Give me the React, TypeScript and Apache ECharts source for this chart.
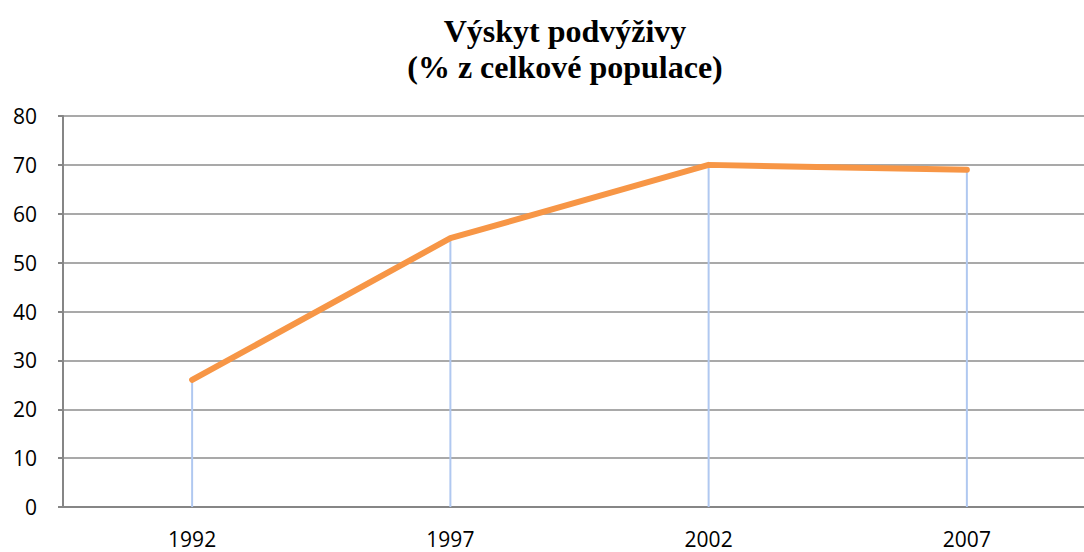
import React, { useEffect, useRef } from "react";
import * as echarts from "echarts";

const years = ["1992", "1997", "2002", "2007"];
const values = [26, 55, 70, 69];
const yTicks = [0, 10, 20, 30, 40, 50, 60, 70, 80];

export default function App() {
  const ref = useRef<HTMLDivElement>(null);
  useEffect(() => {
    const chart = echarts.init(ref.current!, null, { renderer: "svg" });
    chart.setOption({
      animation: false,
      title: {
        text: "Výskyt podvýživy\n(% z celkové populace)",
        left: 560,
        textAlign: "center",
        top: 8,
        textStyle: {
          fontFamily: "Liberation Serif",
          fontWeight: "bold",
          fontSize: 32,
          lineHeight: 36,
          color: "#000",
        },
      },
      grid: { left: 63, right: 4, top: 116, bottom: 45 },
      xAxis: {
        type: "category",
        data: years,
        boundaryGap: true,
        axisLine: { lineStyle: { color: "#868686", width: 2 } },
        axisTick: { show: false },
        axisLabel: {
          fontFamily: "Open Sans",
          fontSize: 21,
          color: "#000",
          margin: 21,
        },
      },
      yAxis: {
        type: "value",
        min: yTicks[0],
        max: yTicks[yTicks.length - 1],
        interval: 10,
        axisLine: { show: true, lineStyle: { color: "#868686", width: 2 } },
        axisTick: { show: true, length: 5, lineStyle: { color: "#868686", width: 2 } },
        axisLabel: {
          fontFamily: "Open Sans",
          fontSize: 21,
          color: "#000",
          margin: 26,
        },
        splitLine: { lineStyle: { color: "#8c8c8c", width: 1.5 } },
      },
      series: [
        {
          type: "bar",
          data: values,
          barWidth: 2,
          itemStyle: { color: "#b0c8f0" },
          silent: true,
          z: 1,
        },
        {
          type: "line",
          data: values,
          symbol: "none",
          lineStyle: { color: "#f79646", width: 6, cap: "round", join: "round" },
          z: 3,
        },
      ],
    });
    return () => chart.dispose();
  }, []);
  return (
    <div style={{ position: "fixed", left: 0, top: 0, width: 1084, height: 552, overflow: "hidden", background: "#fff" }}>
      <div ref={ref} style={{ width: 1100, height: 552 }} />
    </div>
  );
}
